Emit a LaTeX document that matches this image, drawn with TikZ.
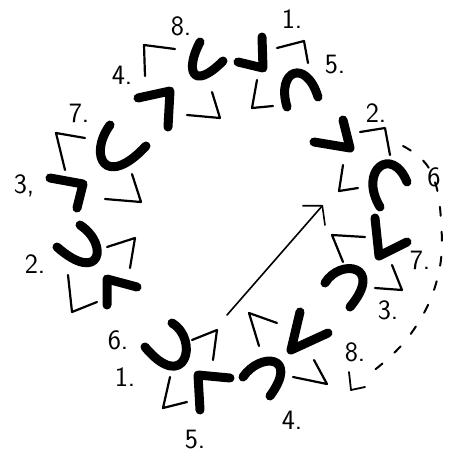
\documentclass[tikz,border=0pt]{standalone}
\usetikzlibrary{arrows.meta}

\tikzset{
  thickhand/.style={line width=9pt,line cap=round,line join=round},
  thinhand/.style={line width=2.2pt,line cap=round,line join=round},
  num/.style={font=\sffamily\fontsize{28}{28}\selectfont,inner sep=0pt},
  dashhand/.style={line width=2pt,line cap=round,dash pattern=on 9pt off 16pt}
}

\begin{document}
\begin{tikzpicture}[x=1pt,y=-1pt,>={Straight Barb[length=13pt,width=30pt]}]
  \useasboundingbox[fill=white] (0,0) rectangle (453,456);
  % top left
  \begin{scope}
    \draw[thinhand] (145,76)--(144,45)--(175,49);
    \draw[thickhand] (200,42) .. controls (185,70) and (192,92) .. (223,61);
    \draw[thickhand] (138,98)--(170,91)--(168,127);
    \draw[thinhand] (212,92)--(220,118)--(187,115);
  \end{scope}
  % top right
  \begin{scope}
    \draw[thickhand] (238,62)--(263,68)--(262,37);
    \draw[thinhand] (277,48)--(304,41)--(308,63);
    \draw[thinhand] (257,80)--(252,108)--(273,106);
    \draw[thickhand] (287,107) .. controls (276,70) and (306,58) .. (318,97);
  \end{scope}
  % left
  \begin{scope}
    \draw[thinhand] (65,170)--(56,133)--(85,138);
    \draw[thickhand] (110,125) .. controls (88,155) and (105,190) .. (146,146);
    \draw[thickhand] (50,178)--(83,184)--(77,208);
    \draw[thinhand] (132,174)--(141,202)--(105,199);
  \end{scope}
  % lower left
  \begin{scope}
    \draw[thickhand] (80,225) .. controls (110,245) and (100,285) .. (57,247);
    \draw[thinhand] (107,247)--(135,238)--(130,268);
    \draw[thinhand] (68,275)--(72,312)--(97,302);
    \draw[thickhand] (107,305)--(107,279)--(137,287);
  \end{scope}
  % bottom left
  \begin{scope}
    \draw[thickhand] (172,323) .. controls (200,340) and (185,395) .. (145,347);
    \draw[thinhand] (192,340)--(217,330)--(213,360);
    \draw[thinhand] (170,377)--(163,408)--(187,402);
    \draw[thickhand] (200,410)--(198,375)--(230,378);
  \end{scope}
  % bottom right
  \begin{scope}
    \draw[thickhand] (243,377) .. controls (260,352) and (300,355) .. (270,396);
    \draw[thickhand] (300,312)--(291,350)--(328,333);
    \draw[thinhand] (259,346)--(249,313)--(277,323);
    \draw[thinhand] (314,360)--(327,384)--(293,377);
  \end{scope}
  % right upper
  \begin{scope}
    \draw[thickhand] (314,142)--(350,148)--(343,120);
    \draw[thinhand] (360,132)--(385,128)--(390,155);
    \draw[thinhand] (343,165)--(339,191)--(358,188);
    \draw[thickhand] (380,207) .. controls (358,170) and (392,145) .. (407,182);
  \end{scope}
  % right lower
  \begin{scope}
    \draw[thickhand] (375,218)--(379,256)--(407,242);
    \draw[thinhand] (343,262)--(332,235)--(365,237);
    \draw[thickhand] (325,283) .. controls (340,258) and (385,265) .. (350,307);
    \draw[thinhand] (392,265)--(402,290)--(375,288);
  \end{scope}
  % numbers
  \foreach \t/\x/\y [count=\i] in {8./181/26,4./122/75,1./292/19,5./335/65,
      7./79/113,{3,}/24/186,2./35/264,6./118/340,1./125/377,5./195/440,
      4./292/420,8./355/352,3./388/310,7./420/260,2./376/113,6/434/177}
    \node[num] (n\i) at (\x,\y) {\t};
  % arrow through the middle
  \coordinate (tail) at (227,315);
  \coordinate (tip) at (323,205);
  \draw[thinhand,line width=1.6pt,->] (tail)--(tip);
  % dashed turn
  \coordinate (dstart) at (403,146);
  \coordinate (dend) at (372,372);
  \draw[dashhand] plot[smooth,tension=0.7] coordinates {(dstart) (430,170) (441,220) (437,280) (410,335) (dend)};
  \draw[thinhand,line width=1.8pt] (349,372)--(351,390)--(365,387);
\end{tikzpicture}
\end{document}
